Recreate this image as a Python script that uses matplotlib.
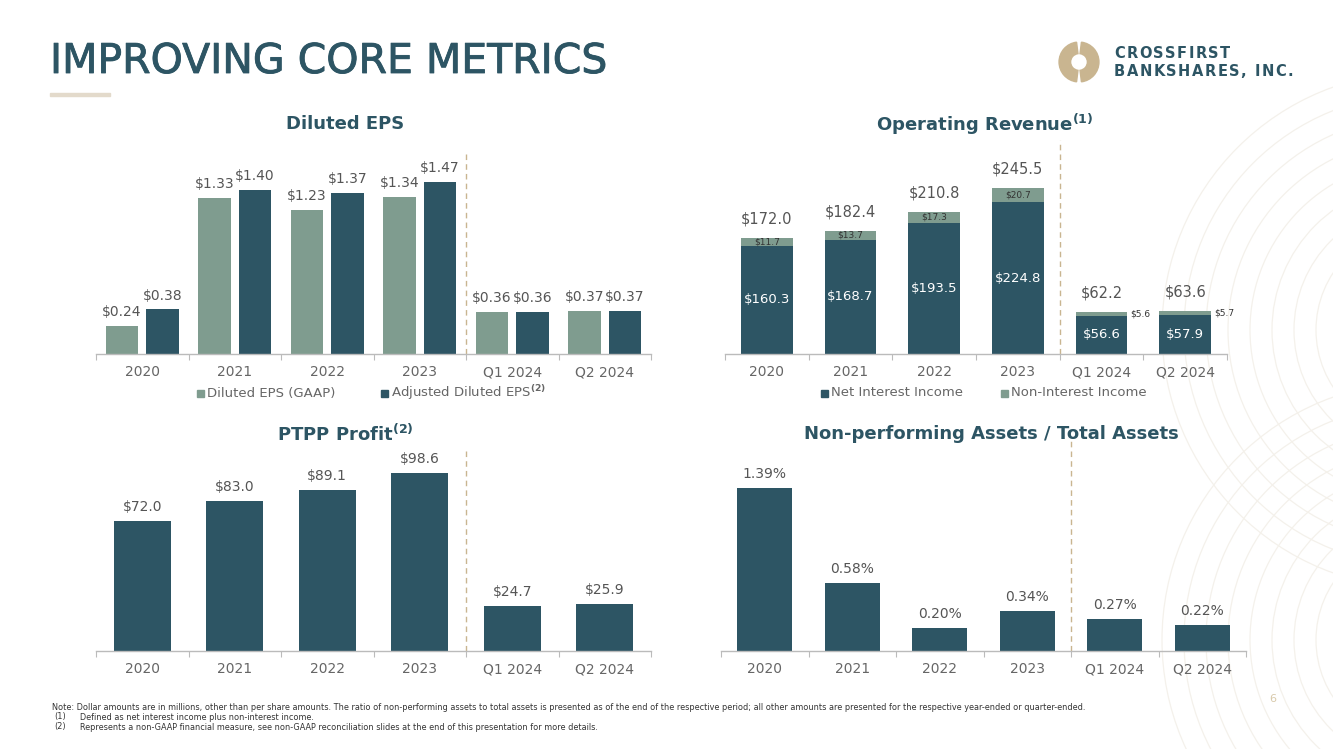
import numpy as np
import matplotlib
matplotlib.use("Agg")
import matplotlib.pyplot as plt
import matplotlib.patheffects as pe
from matplotlib.patches import Wedge, Rectangle, Arc

W, H = 1333, 749

cats = ["2020", "2021", "2022", "2023", "Q1 2024", "Q2 2024"]
eps_gaap = [0.24, 1.33, 1.23, 1.34, 0.36, 0.37]
eps_adj = [0.38, 1.40, 1.37, 1.47, 0.36, 0.37]
nii = [160.3, 168.7, 193.5, 224.8, 56.6, 57.9]
non_ii = [11.7, 13.7, 17.3, 20.7, 5.6, 5.7]
op_total = [172.0, 182.4, 210.8, 245.5, 62.2, 63.6]
ptpp = [72.0, 83.0, 89.1, 98.6, 24.7, 25.9]
npa = [1.39, 0.58, 0.20, 0.34, 0.27, 0.22]

DARK = "#2d5564"
SAGE = "#7f9c8f"
GRAY = "#666666"
LBL = "#555555"
TAN = "#c9b590"

plt.rcParams['font.family'] = ['DejaVu Sans']

fig = plt.figure(figsize=(W / 100, H / 100), dpi=100)
fig.patch.set_facecolor("white")


def fx(x):
    return x / W


def fy(y):
    return 1 - y / H


# faint background pattern on the right
bg = fig.add_axes([0, 0, 1, 1])
bg.set_xlim(0, W)
bg.set_ylim(H, 0)
bg.axis("off")
for cx, cy in [(1420, 330), (1420, 640)]:
    for r in range(60, 260, 22):
        bg.add_patch(Arc((cx, cy), 2 * r, 2 * r, theta1=90, theta2=270, color="#f4f1eb", lw=0.9))


def make_ax(left, right, bottom, top, ymax):
    ax = fig.add_axes([fx(left), fy(bottom), (right - left) / W, (bottom - top) / H])
    ax.set_facecolor("none")
    ax.set_xlim(-0.5, 5.5)
    ax.set_ylim(0, ymax)
    for s in ["top", "right", "left"]:
        ax.spines[s].set_visible(False)
    ax.spines["bottom"].set_color("#bbbbbb")
    ax.spines["bottom"].set_linewidth(1.0)
    ax.set_yticks([])
    ax.set_xticks(np.arange(-0.5, 6, 1))
    ax.set_xticklabels([])
    ax.tick_params(axis="x", which="major", length=4.5, color="#bbbbbb", direction="out")
    ax.set_xticks(np.arange(6), minor=True)
    ax.set_xticklabels(cats, minor=True)
    ax.tick_params(axis="x", which="minor", length=0, pad=8, labelsize=10, labelcolor=GRAY)
    ax.axvline(3.5, ymin=0, ymax=1, color="#c9b590", lw=1.0, ls=(0, (4, 3)))
    return ax


x = np.arange(len(cats))

# Diluted EPS
ax1 = make_ax(96, 651, 354, 150, 1.74)
ax1.bar(x - 0.22, eps_gaap, 0.35, color=SAGE)
ax1.bar(x + 0.22, eps_adj, 0.35, color=DARK)
for xi, v in zip(x, eps_gaap):
    ax1.annotate(f"${v:.2f}", (xi - 0.22, v), xytext=(0, 5), textcoords="offset points",
                 ha="center", va="bottom", fontsize=10, color=LBL)
for xi, v in zip(x, eps_adj):
    ax1.annotate(f"${v:.2f}", (xi + 0.22, v), xytext=(0, 5), textcoords="offset points",
                 ha="center", va="bottom", fontsize=10, color=LBL)

# Operating revenue
ax2 = make_ax(725, 1227, 354, 140, 316.6)
ax2.bar(x, nii, 0.62, color=DARK)
ax2.bar(x, non_ii, 0.62, bottom=nii, color=SAGE)
for i in range(len(cats)):
    ax2.annotate(f"${op_total[i]:.1f}", (x[i], op_total[i]), xytext=(0, 8), textcoords="offset points",
                 ha="center", va="bottom", fontsize=10.5, color=LBL)
    ax2.text(x[i], nii[i] / 2, f"${nii[i]:.1f}", ha="center", va="center", fontsize=9.5, color="white")
    if i < 4:
        ax2.text(x[i], nii[i] + non_ii[i] / 2, f"${non_ii[i]:.1f}", ha="center", va="center",
                 fontsize=6.5, color="#333333")
    else:
        ax2.annotate(f"${non_ii[i]:.1f}", (x[i] + 0.31, nii[i] + non_ii[i] / 2), xytext=(2, 0),
                     textcoords="offset points", ha="left", va="center", fontsize=6.5, color="#333333")

# PTPP profit
ax3 = make_ax(96, 651, 651, 448, 112.5)
ax3.bar(x, ptpp, 0.62, color=DARK)
for xi, v in zip(x, ptpp):
    ax3.annotate(f"${v:.1f}", (xi, v), xytext=(0, 5), textcoords="offset points",
                 ha="center", va="bottom", fontsize=10, color=LBL)

# NPA / total assets
ax4 = make_ax(721, 1246, 651, 440, 1.8)
ax4.bar(x, npa, 0.63, color=DARK)
for xi, v in zip(x, npa):
    ax4.annotate(f"{v:.2f}%", (xi, v), xytext=(0, 5), textcoords="offset points",
                 ha="center", va="bottom", fontsize=10, color=LBL)

# panel titles
tkw = dict(ha="center", va="center", fontsize=13, fontweight="bold", color=DARK)
fig.text(fx(345), fy(124), "Diluted EPS", **tkw)
fig.text(fx(985), fy(124), r"Operating Revenue$^{\mathbf{(1)}}$", **tkw)
fig.text(fx(345), fy(434), r"PTPP Profit$^{\mathbf{(2)}}$", **tkw)
fig.text(fx(991), fy(434), "Non-performing Assets / Total Assets", **tkw)


# legends
def legend_item(xsq, y, color, label):
    fig.patches.append(Rectangle((fx(xsq), fy(y + 4)), 7 / W, 7 / H, transform=fig.transFigure,
                                 color=color, zorder=5))
    fig.text(fx(xsq + 10), fy(y), label, ha="left", va="center", fontsize=9.5, color=GRAY)


legend_item(197, 393, SAGE, "Diluted EPS (GAAP)")
legend_item(381, 393, DARK, r"Adjusted Diluted EPS$^{\mathbf{(2)}}$")
legend_item(821, 393, DARK, "Net Interest Income")
legend_item(1001, 393, SAGE, "Non-Interest Income")

# header
fig.text(fx(50), fy(62), "IMPROVING CORE METRICS", ha="left", va="center", fontsize=29.5, color=DARK,
         path_effects=[pe.withStroke(linewidth=0.6, foreground=DARK)])
fig.patches.append(Rectangle((fx(50), fy(96)), 60 / W, 3 / H, transform=fig.transFigure,
                             color="#e3dacb", zorder=5))

# logo
lax = fig.add_axes([fx(1058), fy(83), 42 / W, 42 / H])
lax.set_xlim(-1, 1)
lax.set_ylim(-1, 1)
lax.set_aspect("equal")
lax.axis("off")
lax.add_patch(Wedge((0, 0), 0.95, 97, 263, width=0.55, color=TAN))
lax.add_patch(Wedge((0, 0), 0.95, -83, 83, width=0.55, color=TAN))

renderer = fig.canvas.get_renderer()


def tracked_text(x0, y, s, target, size):
    items = []
    total = 0
    for ch in s:
        t = fig.text(fx(x0), fy(y), ch, ha="left", va="center", fontsize=size, fontweight="bold",
                     color=DARK)
        w = t.get_window_extent(renderer=renderer).width
        items.append((t, w))
        total += w
    gap = (target - total) / (len(s) - 1)
    xc = x0
    for t, w in items:
        t.set_x(fx(xc))
        xc += w + gap


tracked_text(1114, 54, "CROSSFIRST", 116, 10.5)
tracked_text(1114, 71, "BANKSHARES, INC.", 179, 10.5)

# footnotes
fkw = dict(ha="left", va="center", fontsize=5.9, color="#333333")
fig.text(fx(52), fy(708), "Note: Dollar amounts are in millions, other than per share amounts. The ratio of "
         "non-performing assets to total assets is presented as of the end of the respective period; all other "
         "amounts are presented for the respective year-ended or quarter-ended.", **fkw)
fig.text(fx(54), fy(717), "(1)", **fkw)
fig.text(fx(80), fy(717), "Defined as net interest income plus non-interest income.", **fkw)
fig.text(fx(54), fy(727), "(2)", **fkw)
fig.text(fx(80), fy(727), "Represents a non-GAAP financial measure, see non-GAAP reconciliation slides at the "
         "end of this presentation for more details.", **fkw)
fig.text(fx(1273), fy(699), "6", ha="center", va="center", fontsize=8, color="#d8c9aa")

fig.savefig("out.png", dpi=100, facecolor="white")
